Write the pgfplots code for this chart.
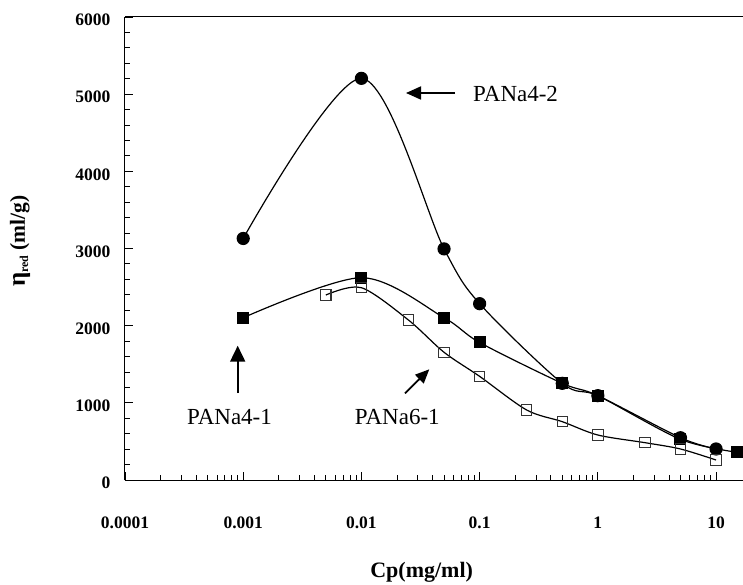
\documentclass[border=0pt]{standalone}
\usepackage{fontspec}
\setmainfont{Liberation Serif}
\usepackage{pgfplots}
\pgfplotsset{compat=1.18}
\usetikzlibrary{arrows.meta}

\begin{document}
\begin{tikzpicture}
\useasboundingbox (-125pt,-104pt) rectangle (618pt,480pt);
\begin{axis}[
  scale only axis, width=618pt, height=463pt,
  xmode=log, xmin=1e-4, xmax=16.9,
  ymin=0, ymax=6000,
  axis x line=bottom, axis y line=left,
  axis line style={-, line width=1pt, black},
  xtick={0.0001,0.001,0.01,0.1,1,10},
  xticklabels={0.0001,0.001,0.01,0.1,1,10},
  minor xtick={2e-4,3e-4,4e-4,5e-4,6e-4,7e-4,8e-4,9e-4,
               2e-3,3e-3,4e-3,5e-3,6e-3,7e-3,8e-3,9e-3,
               2e-2,3e-2,4e-2,5e-2,6e-2,7e-2,8e-2,9e-2,
               0.2,0.3,0.4,0.5,0.6,0.7,0.8,0.9,
               2,3,4,5,6,7,8,9},
  ytick={0,1000,2000,3000,4000,5000,6000},
  yticklabels={0,1000,2000,3000,4000,5000,6000},
  yminorticks=true,
  minor ytick={200,400,600,800,1200,1400,1600,1800,2200,2400,2600,2800,
               3200,3400,3600,3800,4200,4400,4600,4800,5200,5400,5600,5800},
  tick align=inside,
  major tick length=8pt, minor tick length=5pt,
  major tick style={black, line width=0.9pt},
  minor tick style={black, line width=0.9pt},
  ticklabel style={font=\fontsize{17.5}{20}\selectfont\bfseries},
  xticklabel style={anchor=center, yshift=-43pt},
  yticklabel style={anchor=east, xshift=-11pt, yshift=-3pt},
  xlabel={Cp(mg/ml)},
  ylabel={{\fontsize{25}{28}\selectfont η}\raisebox{-0.35ex}{\fontsize{12}{14}\selectfont red} (ml/g)},
  x label style={at={(rel axis cs:0.48,-0.1987)}, anchor=center,
                 font=\fontsize{22}{26}\selectfont\bfseries},
  y label style={at={(rel axis cs:-0.1699,0.516)}, anchor=center,
                 font=\fontsize{21.5}{26}\selectfont\bfseries},
]
% PANa4-2
\addplot[black, line width=1.2pt, smooth, tension=0.5, mark=*, mark size=6pt,
         mark options={solid}] coordinates {
  (0.001,3130) (0.01,5205) (0.05,2995) (0.1,2285)
  (0.5,1253) (1,1093) (5,548) (10,402)
};
% PANa4-1
\addplot[black, line width=1.2pt, smooth, mark=square*, mark size=5.4pt,
         mark options={solid}] coordinates {
  (0.001,2103) (0.01,2622) (0.05,2103) (0.1,1782)
  (0.5,1253) (1,1093) (5,527) (15,360)
};
% PANa6-1
\addplot[black, line width=1.2pt, smooth, mark=square, mark size=5.2pt,
         mark options={solid, fill=white, line width=1.1pt, draw=black!80}] coordinates {
  (0.005,2397) (0.01,2492) (0.025,2073) (0.05,1655) (0.1,1343)
  (0.25,907) (0.5,756) (1,583) (2.5,484) (5,402) (10,259)
};
\end{axis}
% frame line along the top
\draw[line width=1pt, black] (0,463pt) -- (618pt,463pt);
% annotations
\begin{scope}[font=\fontsize{23}{27}\selectfont]
\draw[line width=1.8pt, -{Triangle[length=15pt,width=13pt]}] (330pt,387pt) -- (281pt,387pt);
\node[anchor=west, inner sep=0pt] at (348pt,386pt) {PANa4-2};
\draw[line width=1.8pt, -{Triangle[length=16pt,width=15pt]}] (112.7pt,87pt) -- (112.7pt,134.3pt);
\node[inner sep=0pt] at (104.5pt,62.7pt) {PANa4-1};
\draw[line width=1.8pt, -{Triangle[length=14pt,width=12pt]}] (280pt,86.7pt) -- (304.3pt,110.7pt);
\node[inner sep=0pt] at (272.3pt,62.7pt) {PANa6-1};
\end{scope}
\end{tikzpicture}
\end{document}
